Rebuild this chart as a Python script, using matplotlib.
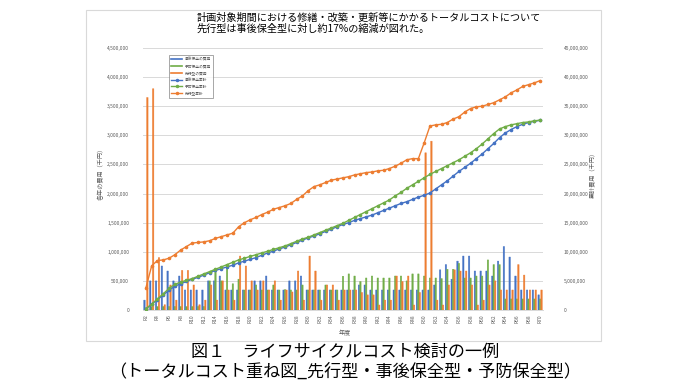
import numpy as np
import matplotlib
matplotlib.use("Agg")
import matplotlib.pyplot as plt
from matplotlib.lines import Line2D
from matplotlib.patches import Rectangle

plt.rcParams['font.family'] = ['Noto Sans CJK JP', 'DejaVu Sans']

# 年度 R2 .. R70
years = ['R%d' % n for n in range(2, 71)]

# 各年の費用（千円）
cost_jigo = [170, 500, 500, 756, 670, 500, 584, 344, 344, 344, 344, 500, 500, 584, 344, 344,
             344, 344, 344, 500, 500, 584, 344, 344, 344, 500, 500, 584, 344, 344, 344, 344,
             344, 344, 344, 344, 344, 430, 430, 344, 344, 344, 344, 344, 344, 344, 344, 344,
             344, 344, 430, 690, 780, 530, 840, 927, 927, 670, 670, 670, 584, 840, 1090, 910,
             584, 344, 344, 344, 260]
cost_yobo = [40, 60, 60, 60, 60, 60, 60, 60, 60, 60, 60, 500, 690, 500, 756, 450,
             530, 344, 344, 430, 344, 344, 430, 344, 350, 344, 344, 430, 344, 344, 344, 430,
             344, 344, 580, 620, 584, 490, 550, 584, 550, 550, 550, 584, 584, 500, 620, 620,
             584, 550, 550, 540, 700, 700, 800, 550, 550, 584, 584, 860, 780, 780, 190, 190,
             190, 190, 190, 190, 190]
cost_senko = [3650, 3800, 900, 90, 430, 170, 680, 680, 430, 90, 170, 430, 170, 500, 344, 170,
              927, 756, 500, 344, 500, 344, 500, 170, 344, 310, 670, 170, 927, 670, 170, 430,
              430, 170, 344, 344, 344, 300, 260, 260, 86, 170, 170, 584, 490, 584, 86, 300,
              2700, 2900, 170, 86, 430, 690, 670, 670, 430, 86, 170, 430, 500, 344, 344, 344,
              780, 600, 344, 344, 344]

# 累計費用（百万円）
cum_jigo = [0.2, 1.0, 1.8, 2.6, 3.4, 4.1, 4.5, 4.9, 5.3, 5.6, 6.0, 6.4, 6.8, 7.1, 7.4, 7.7,
            8.1, 8.4, 8.7, 9.0, 9.4, 9.8, 10.1, 10.5, 10.8, 11.2, 11.6, 12.0, 12.4, 12.7, 13.1,
            13.5, 13.9, 14.3, 14.7, 15.0, 15.4, 15.7, 16.0, 16.3, 16.7, 17.1, 17.5, 17.9, 18.3,
            18.6, 19.0, 19.4, 19.7, 20.1, 20.8, 21.5, 22.2, 23.0, 23.8, 24.5, 25.2, 26.0, 26.8,
            27.7, 28.6, 29.6, 30.4, 31.0, 31.5, 31.9, 32.2, 32.4, 32.6]
cum_yobo = [0.2, 1.0, 1.9, 2.8, 3.7, 4.4, 4.8, 5.1, 5.4, 5.8, 6.2, 6.6, 7.0, 7.4, 7.8, 8.2,
            8.6, 8.9, 9.2, 9.5, 9.8, 10.1, 10.4, 10.7, 11.0, 11.4, 11.8, 12.2, 12.5, 12.9, 13.3,
            13.7, 14.1, 14.5, 14.9, 15.4, 15.9, 16.4, 16.9, 17.4, 17.9, 18.4, 18.9, 19.6, 20.2,
            20.9, 21.5, 22.1, 22.7, 23.3, 23.8, 24.3, 24.8, 25.3, 25.8, 26.4, 27.0, 27.7, 28.5,
            29.4, 30.3, 31.1, 31.5, 31.8, 32.0, 32.2, 32.3, 32.5, 32.6]
cum_senko = [3.8, 7.6, 8.5, 8.6, 8.9, 9.5, 10.3, 10.9, 11.5, 11.6, 11.7, 11.9, 12.3, 12.6, 12.9,
             13.2, 14.3, 15.0, 15.5, 15.9, 16.4, 16.8, 17.3, 17.6, 17.9, 18.3, 19.0, 19.6, 20.5,
             21.2, 21.5, 21.9, 22.3, 22.5, 22.7, 22.9, 23.2, 23.4, 23.6, 23.7, 23.9, 24.0, 24.3,
             24.7, 25.2, 25.8, 26.0, 26.0, 28.7, 31.6, 31.8, 31.9, 32.2, 32.8, 33.2, 34.0, 34.6,
             34.9, 35.0, 35.3, 35.6, 36.1, 36.6, 37.3, 37.8, 38.4, 38.7, 39.0, 39.4]

labels = ['事後保全の費用', '予防保全の費用', '先行型の費用', '事後保全累計', '予防保全累計', '先行型累計']
c_blue, c_green, c_orange = '#4472C4', '#70AD47', '#ED7D31'
tick_color = '#595959'

fig = plt.figure(figsize=(6.9, 3.88), dpi=100)
W, H = 690, 388

# chart frame
fig.patches.append(Rectangle((86 / W, 1 - 341 / H), 515 / W, 331 / H, transform=fig.transFigure,
                             fill=False, edgecolor='#D9D9D9', linewidth=0.8))

ax = fig.add_axes([143 / W, 1 - 310 / H, 400 / W, 262 / H])
ax2 = ax.twinx()

x = np.arange(len(years))
bw = 0.25
for off, vals, col in ((-bw, cost_jigo, c_blue), (0, cost_yobo, c_green), (bw, cost_senko, c_orange)):
    ax.bar(x + off, vals, bw, color=col, edgecolor=col, linewidth=0.3, snap=False, zorder=2)

ax.set_ylim(0, 4500)
ax.set_yticks(np.arange(0, 4501, 500))
ax.set_yticklabels(['{:,}'.format(v * 1000) for v in range(0, 4501, 500)])
ax.set_xlim(-0.5, len(years) - 0.5)
ax.set_xticks(x[::2])
ax.set_xticklabels(years[::2], rotation=90)
ax.grid(axis='y', color='#D9D9D9', linewidth=0.7, zorder=0)
ax.set_axisbelow(True)

mk = dict(marker='o', markersize=1.6, linewidth=1.0)
ax2.plot(x, np.array(cum_jigo) * 1000, color=c_blue, **mk)
ax2.plot(x, np.array(cum_yobo) * 1000, color=c_green, **mk)
ax2.plot(x, np.array(cum_senko) * 1000, color=c_orange, **mk)
ax2.set_ylim(0, 45000)
ax2.set_yticks(np.arange(0, 45001, 5000))
ax2.set_yticklabels(['{:,}'.format(v * 1000) for v in range(0, 45001, 5000)])

for a in (ax, ax2):
    for s in a.spines.values():
        s.set_visible(False)
    a.tick_params(length=0, labelsize=3.5, labelcolor=tick_color)
ax.tick_params(axis='y', pad=10)
ax2.tick_params(axis='y', pad=15)
ax.tick_params(axis='x', pad=3)
ax.spines['bottom'].set_visible(True)
ax.spines['bottom'].set_color('#D9D9D9')
ax.spines['bottom'].set_linewidth(0.7)

fig.text(101 / W, 1 - 172 / H, '各年の費用（千円）', rotation=90, ha='center', va='center',
         fontsize=4.4, color=tick_color)
fig.text(592 / W, 1 - 173 / H, '累計費用（千円）', rotation=90, ha='center', va='center',
         fontsize=4.4, color=tick_color)
fig.text(345 / W, 1 - 333 / H, '年度', ha='center', va='center', fontsize=4.4, color=tick_color)

handles = [Line2D([], [], color=c_blue, lw=1.2), Line2D([], [], color=c_green, lw=1.2),
           Line2D([], [], color=c_orange, lw=1.2),
           Line2D([], [], color=c_blue, lw=1.0, marker='o', markersize=1.5),
           Line2D([], [], color=c_green, lw=1.0, marker='o', markersize=1.5),
           Line2D([], [], color=c_orange, lw=1.0, marker='o', markersize=1.5)]
leg = fig.legend(handles, labels, loc='upper left', bbox_to_anchor=(167 / W, 1 - 53 / H),
                 fontsize=2.7, frameon=True, fancybox=False, edgecolor='#7F7F7F',
                 handlelength=3.0, labelspacing=0.75, borderpad=0.6, handletextpad=0.6)
leg.get_frame().set_linewidth(0.6)
for t in leg.get_texts():
    t.set_color(tick_color)

fig.text(197 / W, 1 - 23 / H,
         '計画対象期間における修繕・改築・更新等にかかるトータルコストについて\n'
         '先行型は事後保全型に対し約17%の縮減が図れた。',
         ha='left', va='center', fontsize=7.3, linespacing=1.15, color='black')

fig.text(345 / W, 1 - 352 / H, '図１　ライフサイクルコスト検討の一例', ha='center', va='center',
         fontsize=12.3, color='black')
fig.text(345 / W, 1 - 372 / H, '（トータルコスト重ね図_先行型・事後保全型・予防保全型）',
         ha='center', va='center', fontsize=12.3, color='black')

fig.savefig('out.png', dpi=100)
